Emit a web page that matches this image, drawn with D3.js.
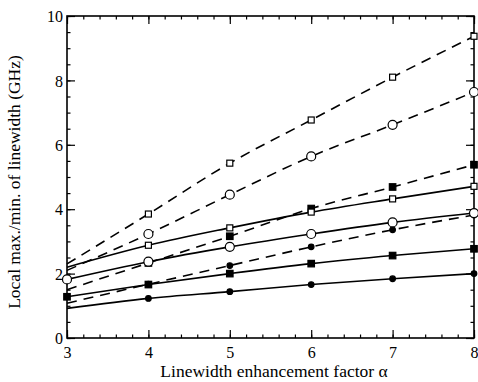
<!DOCTYPE html>
<html>
<head>
<meta charset="utf-8">
<script src="https://cdn.jsdelivr.net/npm/d3@7"></script>
<style>
  body { margin: 0; background: #fff; }
  text { font-family: "Liberation Serif", "Times New Roman", serif; fill: #000; }
</style>
</head>
<body>
<div id="chart"></div>
<script>
// linewidth enhancement factor (x)
var alpha = [3, 4, 5, 6, 7, 8];

// local max./min. of linewidth (GHz)
var dashedOpenSquare   = [2.3, 3.85, 5.43, 6.77, 8.1, 9.37];
var dashedOpenCircle   = [2.1, 3.23, 4.45, 5.64, 6.62, 7.64];
var dashedFilledSquare = [1.5, 2.33, 3.16, 4.02, 4.69, 5.38];
var dashedFilledCircle = [1.08, 1.67, 2.25, 2.83, 3.36, 3.82];
var solidOpenSquare    = [2.2, 2.88, 3.42, 3.91, 4.32, 4.71];
var solidOpenCircle    = [1.82, 2.37, 2.83, 3.23, 3.59, 3.88];
var solidFilledSquare  = [1.28, 1.66, 2.0, 2.31, 2.56, 2.77];
var solidFilledCircle  = [0.92, 1.23, 1.44, 1.66, 1.84, 2.0];

var xTicks = [3, 4, 5, 6, 7, 8];
var yTicks = [0, 2, 4, 6, 8, 10];

var series = [
  { values: dashedOpenSquare,   dashed: true,  shape: "square", filled: false, from: 1 },
  { values: dashedOpenCircle,   dashed: true,  shape: "circle", filled: false, from: 1 },
  { values: dashedFilledSquare, dashed: true,  shape: "square", filled: true,  from: 1 },
  { values: dashedFilledCircle, dashed: true,  shape: "circle", filled: true,  from: 1 },
  { values: solidOpenSquare,    dashed: false, shape: "square", filled: false, from: 1 },
  { values: solidOpenCircle,    dashed: false, shape: "circle", filled: false, from: 0 },
  { values: solidFilledSquare,  dashed: false, shape: "square", filled: true,  from: 0 },
  { values: solidFilledCircle,  dashed: false, shape: "circle", filled: true,  from: 1 }
];

var svgWidth = 478;
var svgHeight = 382;
var margin = { top: 16, right: 4, bottom: 44, left: 67 };
var width = svgWidth - margin.left - margin.right;
var height = svgHeight - margin.top - margin.bottom;

var svg = d3.select("#chart")
  .append("svg")
    .attr("width", svgWidth)
    .attr("height", svgHeight)
  .append("g")
    .attr("transform", "translate(" + margin.left + "," + margin.top + ")");

var x = d3.scaleLinear().domain([3, 8]).range([0, width]);
var y = d3.scaleLinear().domain([0, 10]).range([height, 0]);

var xMinor = d3.range(3, 8.001, 0.2);
var yMinor = d3.range(0, 10.001, 0.5);

// inward ticks on all four sides
function tickAxis(axis, scale, major, minor, transform, showLabels) {
  var g = svg.append("g").attr("transform", transform);
  g.call(axis(scale).tickValues(minor).tickSize(-3.5).tickFormat(""));
  var m = svg.append("g").attr("transform", transform);
  m.call(axis(scale).tickValues(major).tickSize(-8).tickPadding(showLabels ? 4 : 0)
    .tickFormat(showLabels ? d3.format("d") : ""));
  [g, m].forEach(function (s) {
    s.select(".domain").remove();
    s.selectAll("line").attr("stroke", "#000").attr("stroke-width", 1.2);
  });
  return m;
}

var bx = tickAxis(d3.axisBottom, x, xTicks, xMinor, "translate(0," + height + ")", true);
bx.selectAll("text").attr("font-size", 16).attr("dy", "1.0em");
tickAxis(d3.axisTop, x, xTicks, xMinor, "translate(0,0)", false);
var ly = tickAxis(d3.axisLeft, y, yTicks, yMinor, "translate(0,0)", true);
ly.selectAll("text").attr("font-size", 16).attr("dy", "0.35em");
tickAxis(d3.axisRight, y, yTicks, yMinor, "translate(" + width + ",0)", false);

// frame
svg.append("rect")
  .attr("width", width)
  .attr("height", height)
  .attr("fill", "none")
  .attr("stroke", "#000")
  .attr("stroke-width", 1.6);

var line = d3.line()
  .x(function (d, i) { return x(alpha[i]); })
  .y(function (d) { return y(d); })
  .curve(d3.curveMonotoneX);

series.forEach(function (s) {
  svg.append("path")
    .datum(s.values)
    .attr("d", line)
    .attr("fill", "none")
    .attr("stroke", "#000")
    .attr("stroke-width", 1.6)
    .attr("stroke-dasharray", s.dashed ? "10,7" : null);
});

series.forEach(function (s) {
  var pts = s.values.map(function (v, i) { return { a: alpha[i], v: v }; }).slice(s.from);
  var g = svg.append("g");
  if (s.shape === "square") {
    var size = s.filled ? 6.5 : 6;
    g.selectAll("rect")
      .data(pts)
      .enter()
      .append("rect")
        .attr("x", function (d) { return x(d.a) - size / 2; })
        .attr("y", function (d) { return y(d.v) - size / 2; })
        .attr("width", size)
        .attr("height", size)
        .attr("fill", s.filled ? "#000" : "#fff")
        .attr("stroke", "#000")
        .attr("stroke-width", 1.2);
  } else {
    g.selectAll("circle")
      .data(pts)
      .enter()
      .append("circle")
        .attr("cx", function (d) { return x(d.a); })
        .attr("cy", function (d) { return y(d.v); })
        .attr("r", s.filled ? 2.8 : 4.5)
        .attr("fill", s.filled ? "#000" : "#fff")
        .attr("stroke", "#000")
        .attr("stroke-width", 1.2);
  }
});

// axis titles
svg.append("text")
  .attr("x", 207)
  .attr("y", height + 39)
  .attr("text-anchor", "middle")
  .attr("font-size", 17.5)
  .text("Linewidth enhancement factor α");

svg.append("text")
  .attr("transform", "translate(" + (-47) + "," + 166 + ") rotate(-90)")
  .attr("text-anchor", "middle")
  .attr("font-size", 17.5)
  .text("Local max./min. of linewidth (GHz)");
</script>
</body>
</html>
